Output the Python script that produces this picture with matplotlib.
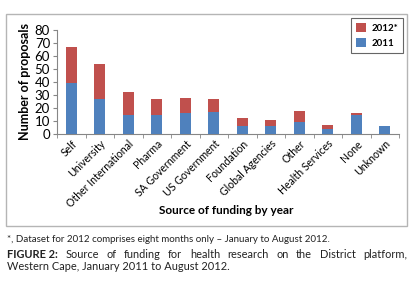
import matplotlib
matplotlib.use("Agg")
from matplotlib import pyplot as plt
from matplotlib.patches import Rectangle
import numpy as np

plt.rcParams['font.family'] = ['Lato', 'DejaVu Sans']

# data
sources = ["Self", "University", "Other International", "Pharma", "SA Government",
           "US Government", "Foundation", "Global Agencies", "Other",
           "Health Services", "None", "Unknown"]
y2011 = [39, 27, 15, 15, 16, 17, 6, 6, 9, 4, 15, 6]
total = [67, 54, 32, 27, 28, 27, 12, 11, 18, 7, 16, 6]
y2012 = [t - a for t, a in zip(total, y2011)]

blue = "#4F81BD"
red = "#C0504D"

fig = plt.figure(figsize=(4.19, 2.85), dpi=100)

# outer frame around the chart
fig.patches.append(Rectangle((6/419, 1 - 226/285), 401/419, 212/285,
                             transform=fig.transFigure, fill=False,
                             edgecolor="#b5b5b5", linewidth=1.0))

ax = fig.add_axes([57/419, 1 - 134/285, 342/419, 104/285])
x = np.arange(len(sources))
ax.bar(x, y2011, width=0.4, color=blue, label="2011", zorder=3)
ax.bar(x, y2012, width=0.4, bottom=y2011, color=red, label="2012*", zorder=3)

ax.set_xlim(-0.5, len(sources) - 0.5)
ax.set_ylim(0, 80)
ax.set_yticks(range(0, 81, 10))
ax.tick_params(axis="y", labelsize=9.5, length=3, color="#868686", pad=2)

ax.set_xticks(x)
ax.set_xticklabels(sources, rotation=45, ha="right", rotation_mode="anchor",
                   fontsize=7.6)
ax.tick_params(axis="x", which="major", length=0, pad=3)
ax.set_xticks(np.arange(-0.5, len(sources), 1), minor=True)
ax.tick_params(axis="x", which="minor", length=3, color="#868686")

for s in ["top", "right"]:
    ax.spines[s].set_visible(False)
for s in ["left", "bottom"]:
    ax.spines[s].set_color("#868686")
    ax.spines[s].set_linewidth(0.8)

ax.set_ylabel("Number of proposals", fontsize=9, fontweight="bold", labelpad=3)
ax.set_xlabel("Source of funding by year", fontsize=8.5, fontweight="bold")
ax.xaxis.set_label_coords(226/419, 1 - 210/285, transform=fig.transFigure)
ax.xaxis.label.set_va("center")

handles, labels = ax.get_legend_handles_labels()
leg = ax.legend(handles[::-1], labels[::-1], loc="upper right",
                bbox_to_anchor=(403/419, 1 - 18/285), bbox_transform=fig.transFigure,
                borderaxespad=0, fontsize=7, frameon=True, fancybox=False,
                handlelength=1.0, handleheight=1.0, handletextpad=0.6,
                borderpad=0.5, labelspacing=0.6)
leg.get_frame().set_edgecolor("#404040")
leg.get_frame().set_linewidth(0.8)
for t in leg.get_texts():
    t.set_fontweight("bold")

fig.text(7/419, 1 - 240/285, "*, Dataset for 2012 comprises eight months only \u2013 January to August 2012.",
         fontsize=7, va="center", ha="left", color="#222222")

# justified first caption line
fig.canvas.draw()
renderer = fig.canvas.get_renderer()
words = ["FIGURE 2:", "Source", "of", "funding", "for", "health", "research", "on",
         "the", "District", "platform,"]
left, right = 7/419, 407/419
ycap = 1 - 255/285
texts = []
for i, w in enumerate(words):
    t = fig.text(0, ycap, w, fontsize=7.9, va="center", ha="left", color="#222222",
                 fontweight="bold" if i == 0 else "normal")
    texts.append(t)
widths = [t.get_window_extent(renderer).width / fig.bbox.width for t in texts]
gap = (right - left - sum(widths)) / (len(words) - 1)
pos = left
for t, wd in zip(texts, widths):
    t.set_x(pos)
    pos += wd + gap
fig.text(left, 1 - 266/285, "Western Cape, January 2011 to August 2012.",
         fontsize=7.9, va="center", ha="left", color="#222222")

fig.savefig("out.png", dpi=100)
